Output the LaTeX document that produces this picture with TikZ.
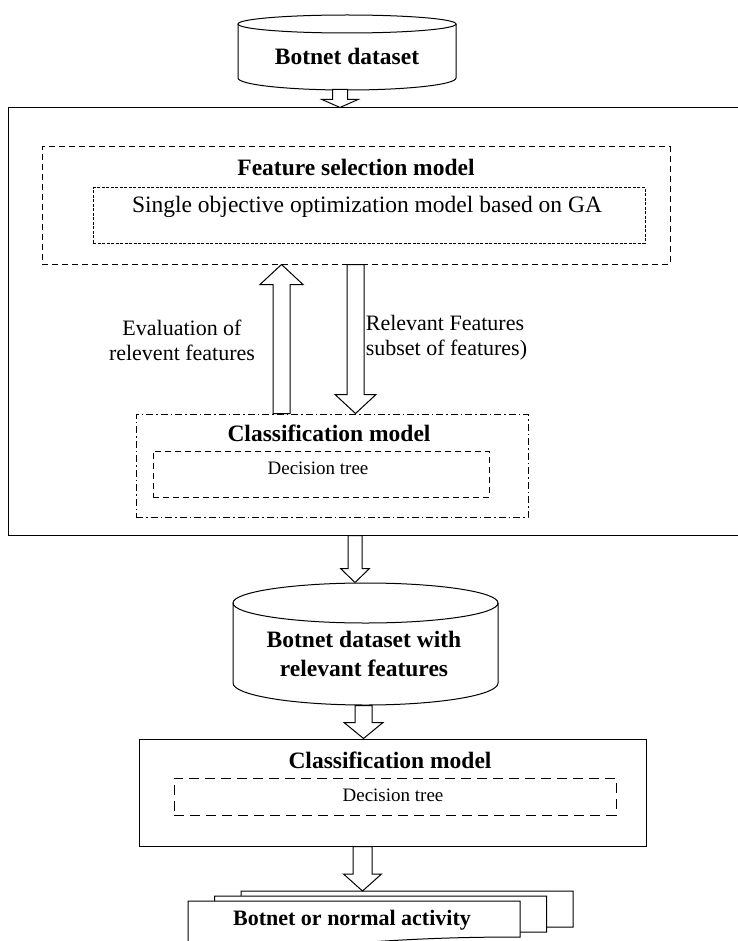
\documentclass[tikz,border=0pt]{standalone}
\usepackage{fontspec}
\setmainfont{Liberation Serif}
\usetikzlibrary{positioning,calc}
% hollow block arrow: x, from, to, half shaft, half head, head length
\newcommand{\blockarrow}[6]{%
  \draw[fill=white] let \p1=#2, \p2=#3, \n1={sign(\y2-\y1)} in
    (#1-#4,\y1) -- (#1-#4,\y2-\n1*#6) -- (#1-#5,\y2-\n1*#6) -- (#1,\y2)
    -- (#1+#5,\y2-\n1*#6) -- (#1+#4,\y2-\n1*#6) -- (#1+#4,\y1) -- cycle;}

\begin{document}
\begin{tikzpicture}[x=1pt,y=-1pt,line width=1pt]
    \tikzstyle{plainbox} = [draw,rectangle,inner sep=0pt]
    \tikzstyle{dashbox} = [plainbox,dash pattern=on 6pt off 4pt]
    \tikzstyle{finebox} = [plainbox,dash pattern=on 3pt off 1.5pt]
    \tikzstyle{dotbox} = [plainbox,dash pattern=on 7pt off 3pt on 1.5pt off 3pt]
    \tikzstyle{longdashbox} = [plainbox,dash pattern=on 10pt off 6pt]
    \tikzstyle{heading} = [font=\bfseries\fontsize{23.5}{29}\selectfont,align=center]
    \tikzstyle{note} = [font=\fontsize{22}{25}\selectfont]
    \tikzstyle{smallnote} = [font=\fontsize{19}{22}\selectfont]
      \useasboundingbox (0,0) rectangle (737,941);
      % input data
      \draw[fill=white] (238,24) -- (238,78) arc[start angle=180,end angle=0,x radius=109,y radius=12] -- (456,24);
      \draw (347,24) ellipse [x radius=109,y radius=9];
      \node[heading,minimum width=218,minimum height=65,inner sep=0pt] (dataset) at (347,56.5) {Botnet dataset};
      % wrapper feature selection
      \node[plainbox,minimum width=737,minimum height=427] (outerBox) at (376.5,321.5) {};
      \node[dashbox,minimum width=628,minimum height=117] (featBox) at (356,205.5) {};
      \node[heading] (featTitle) at (356,167) {Feature selection model};
      \node[finebox,minimum width=552,minimum height=55] (gaBox) at (369,215.5) {};
      \node[note,font=\fontsize{23.5}{27}\selectfont] (gaText) at (367,207) {Single objective optimization model based on GA};
      \node[dotbox,minimum width=392,minimum height=103] (clsBox) at (332,465.5) {};
      \node[heading] (clsTitle) at (329,433) {Classification model};
      \node[dashbox,minimum width=336,minimum height=46] (treeBox) at (321,474) {};
      \node[smallnote] (treeText) at (318,468) {Decision tree};
      \node[note,align=center] (evalText) at (182,340) {Evaluation of\\relevent features};
      \node[note,align=left,anchor=west] (subsetText) at (362,338) {Relevant Features\\subset of features)};
      \blockarrow{281.5}{(clsBox.north)}{(featBox.south)}{8.5}{21.5}{20}
      \blockarrow{355.5}{(featBox.south)}{(clsBox.north)}{8.5}{20.5}{19}
      \blockarrow{340}{(dataset.south)}{(outerBox.north)}{7.5}{18}{8}
      % reduced data
      \draw[fill=white] (233,603) -- (233,683) arc[start angle=180,end angle=0,x radius=132.5,y radius=22] -- (498,603);
      \draw (365.5,603) ellipse [x radius=132.5,y radius=20];
      \node[heading,minimum width=265,minimum height=102,inner sep=0pt] (relData) at (364,654) {Botnet dataset with\\relevant features};
      \blockarrow{355}{(outerBox.south)}{($(relData.north)+(0,-20)$)}{7}{14.5}{14}
      % final classifier
      \node[plainbox,minimum width=507,minimum height=107] (finalCls) at (392.5,792.5) {};
      \node[heading] (finalTitle) at (390,760) {Classification model};
      \node[longdashbox,minimum width=442,minimum height=37] (finalTree) at (395,796.5) {};
      \node[smallnote] (finalText) at (393,795) {Decision tree};
      \blockarrow{363.5}{(relData.south)}{(finalCls.north)}{8.5}{19.5}{16}
      % output documents
      \foreach \dx/\dy in {53/-10,26.5/-5,0/0}
        \draw[fill=white] (188+\dx,901+\dy) -- ++(332,0) -- ++(0,36) .. controls ++(-166,0) and (354+\dx,950.8+\dy) .. (188+\dx,943+\dy) -- cycle;
      \coordinate (docTop) at (362.5,891);
      \node[heading,font=\bfseries\fontsize{22}{26}\selectfont] (result) at (352,920) {Botnet or normal activity};
      \blockarrow{362.5}{(finalCls.south)}{(docTop)}{9.5}{19}{17}
  \end{tikzpicture}
\end{document}
